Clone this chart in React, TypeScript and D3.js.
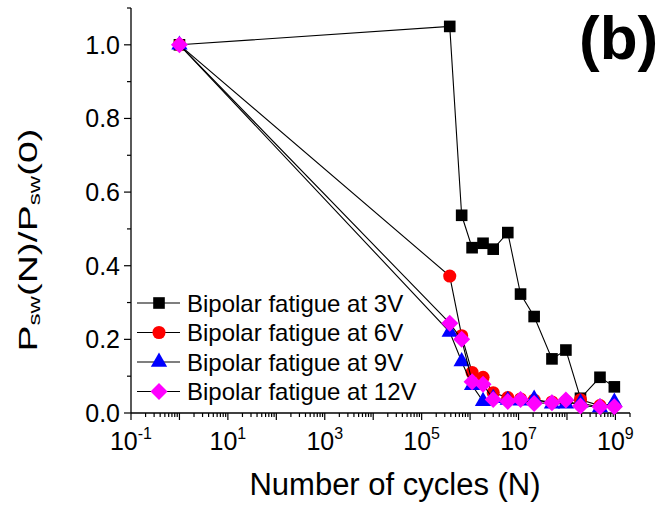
import React from "react";
import * as d3 from "d3";

const cycles = [1, 3.8e5, 6.7e5, 1.1e6, 1.85e6, 3e6, 6e6, 1.1e7, 2.1e7, 4.9e7, 9.5e7, 1.9e8, 4.8e8, 9.5e8];
const v3 = [1, 1.05, 0.537, 0.449, 0.461, 0.445, 0.49, 0.323, 0.262, 0.147, 0.171, 0.04, 0.097, 0.071];
const v6 = [1, 0.372, 0.21, 0.11, 0.097, 0.055, 0.042, 0.038, 0.035, 0.03, 0.032, 0.036, 0.02, 0.02];
const v9 = [1, 0.22, 0.14, 0.075, 0.032, 0.04, 0.035, 0.033, 0.038, 0.025, 0.025, 0.028, 0.015, 0.03];
const v12 = [1, 0.244, 0.2, 0.085, 0.078, 0.037, 0.031, 0.037, 0.026, 0.028, 0.035, 0.019, 0.017, 0.017];
const seriesNames = ["Bipolar fatigue at 3V", "Bipolar fatigue at 6V", "Bipolar fatigue at 9V", "Bipolar fatigue at 12V"];
const seriesColors = ["#000000", "#ff0000", "#0000ff", "#ff00ff"];
const seriesShapes = ["square", "circle", "triangle", "diamond"];
const yTicks = [0, 0.2, 0.4, 0.6, 0.8, 1.0];
const yMinor = [0.1, 0.3, 0.5, 0.7, 0.9, 1.1];
const xLabelExps = [-1, 1, 3, 5, 7, 9];

const FONT = "'Liberation Sans', Arial, Helvetica, sans-serif";

const x = d3.scaleLog().domain([0.1, 2e9]).range([131, 630]);
const y = d3.scaleLinear().domain([0, 1.1]).range([413, 8]);

function symbolPath(shape: string) {
  if (shape === "diamond") {
    const r = 8.5;
    return `M0,${-r}L${r},0L0,${r}L${-r},0Z`;
  }
  const t =
    shape === "square" ? d3.symbolSquare :
    shape === "circle" ? d3.symbolCircle : d3.symbolTriangle;
  const size = shape === "square" ? 135 : shape === "circle" ? 135 : 115;
  return d3.symbol().type(t).size(size)() as string;
}

export default function App() {
  const data = [v3, v6, v9, v12];
  const line = d3.line<[number, number]>().x((d) => x(d[0])).y((d) => y(d[1]));

  const minorX: number[] = [];
  for (let d = -1; d <= 9; d++) {
    for (let k = 1; k <= 9; k++) {
      const v = k * Math.pow(10, d);
      if (v >= 0.1 && v <= 2e9) minorX.push(v);
    }
  }

  return (
    <svg width={663} height={508} style={{ position: "absolute", left: 0, top: 0, background: "#fff" }} fontFamily={FONT}>
      <rect x={0} y={0} width={663} height={508} fill="#fff" />
      {/* axes */}
      <line x1={x(0.1)} x2={x(0.1)} y1={y(0)} y2={y(1.1)} stroke="#000" strokeWidth={1.3} />
      <line x1={x(0.1)} x2={x(2e9)} y1={y(0)} y2={y(0)} stroke="#000" strokeWidth={1.3} />
      {yTicks.map((t) => (
        <g key={"yt" + t}>
          <line x1={x(0.1) - 7} x2={x(0.1)} y1={y(t)} y2={y(t)} stroke="#000" strokeWidth={1.2} />
          <text x={120} y={y(t) + 9} fontSize={25} textAnchor="end">{t.toFixed(1)}</text>
        </g>
      ))}
      {yMinor.map((t) => (
        <line key={"ym" + t} x1={x(0.1) - 4} x2={x(0.1)} y1={y(t)} y2={y(t)} stroke="#000" strokeWidth={1.2} />
      ))}
      {minorX.map((v, i) => {
        const major = Math.abs(Math.log10(v) - Math.round(Math.log10(v))) < 1e-9;
        return (
          <line key={"xm" + i} x1={x(v)} x2={x(v)} y1={y(0)} y2={y(0) + (major ? 7 : 4)} stroke="#000" strokeWidth={1.2} />
        );
      })}
      {xLabelExps.map((e) => (
        <text key={"xl" + e} x={x(Math.pow(10, e))} y={450} fontSize={25} textAnchor="middle">
          10<tspan fontSize={16} dy={-11}>{String(e)}</tspan>
        </text>
      ))}
      {/* axis titles */}
      <text x={395} y={495} fontSize={31} textAnchor="middle">Number of cycles (N)</text>
      <g transform="translate(37,240) rotate(-90) scale(1.5,1)">
        <text x={0} y={0} fontSize={26} textAnchor="middle">
          P<tspan fontSize={16} dy={3}>sw</tspan><tspan dy={-3}>(N)/P</tspan><tspan fontSize={16} dy={3}>sw</tspan><tspan dy={-3}>(0)</tspan>
        </text>
      </g>
      <text x={579} y={59} fontSize={62} fontWeight="bold">(b)</text>
      {/* series */}
      {data.map((vals, si) => {
        const pts: [number, number][] = cycles.map((c, i) => [c, vals[i]]);
        return (
          <g key={"s" + si}>
            <path d={line(pts) as string} fill="none" stroke="#000" strokeWidth={1.1} />
            {pts.map((p, i) => (
              <path key={i} d={symbolPath(seriesShapes[si])}
                transform={`translate(${x(p[0])},${y(p[1])})`} fill={seriesColors[si]} />
            ))}
          </g>
        );
      })}
      {/* legend */}
      {seriesNames.map((name, i) => {
        const cy = 303 + i * 29.5;
        return (
          <g key={"lg" + i}>
            <line x1={137} x2={180} y1={cy} y2={cy} stroke="#000" strokeWidth={1.1} />
            <path d={symbolPath(seriesShapes[i])} transform={`translate(159,${cy})`} fill={seriesColors[i]} />
            <text x={187} y={cy + 8.5} fontSize={24}>{name}</text>
          </g>
        );
      })}
    </svg>
  );
}
